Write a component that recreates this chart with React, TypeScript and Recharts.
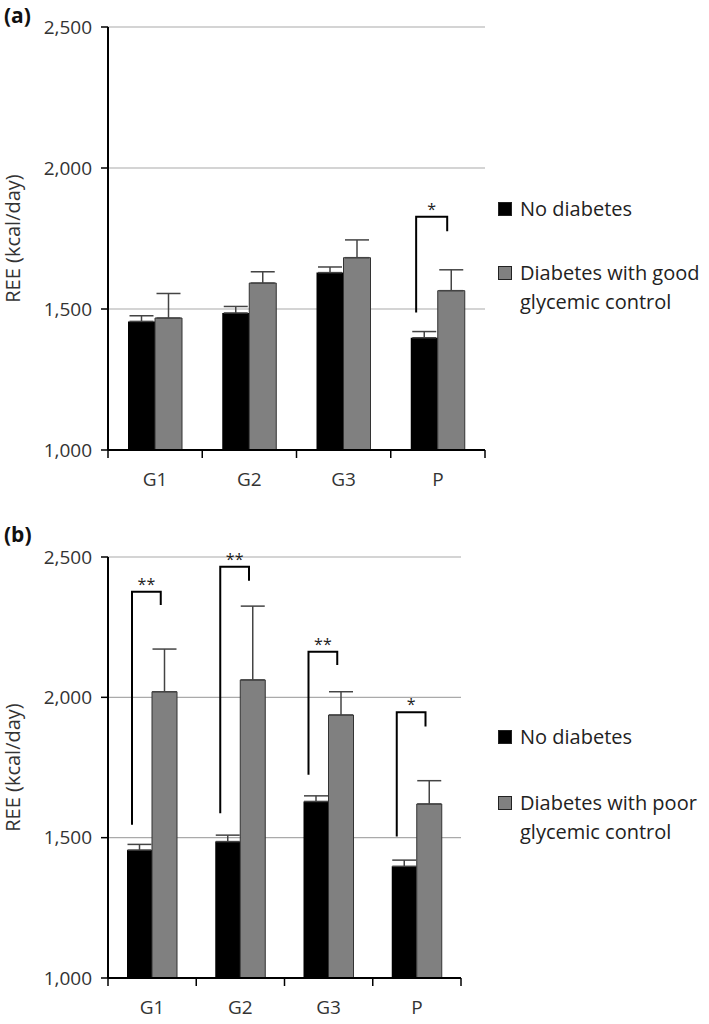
import { BarChart, Bar, XAxis, YAxis, CartesianGrid, ErrorBar, Legend } from 'recharts'

const groups = ['G1', 'G2', 'G3', 'P']
const noDiabetes = [1456, 1486, 1629, 1398]
const noDiabetesErr = [20, 23, 20, 22]
const goodControl = [1468, 1592, 1682, 1565]
const goodControlErr = [87, 40, 63, 74]
const poorControl = [2020, 2062, 1937, 1620]
const poorControlErr = [152, 263, 83, 83]
const yTicks = [1000, 1500, 2000, 2500]
const seriesOrder = ['none', 'dm']

// significance brackets: [left foot, top, right foot] in kcal/day
const bracketsA = [null, null, null, [1488, 1827, 1776]]
const marksA = ['', '', '', '*']
const bracketsB = [
  [1546, 2376, 2329],
  [1587, 2465, 2415],
  [1724, 2162, 2115],
  [1504, 1947, 1896],
]
const marksB = ['**', '**', '**', '*']

const Y_MIN = 1000
const FONT = "'Open Sans', sans-serif"
const X_TICK_MARGIN = 23

type Bracket = number[] | null

function makeBracket(brackets: Bracket[], marks: string[]) {
  return (props: any) => {
    const { x, y, width, height, index, value } = props
    const b = brackets[index]
    if (!b) return null
    const v = Array.isArray(value) ? value[1] : value
    const bottom = y + height
    const k = height / (v - Y_MIN)
    const py = (val: number) => bottom - (val - Y_MIN) * k
    const x1 = x - width + width * 0.2
    const x2 = x + width * 0.35
    const top = py(b[1])
    return (
      <g>
        <path
          d={`M${x1},${py(b[0])}V${top}H${x2}V${py(b[2])}`}
          fill="none"
          stroke="#000"
          strokeWidth={2}
        />
        <text x={(x1 + x2) / 2} y={top - 2} textAnchor="middle" fontSize={16} fontFamily={FONT} fill="#222">
          {marks[index]}
        </text>
      </g>
    )
  }
}

// category label + tick marks on the band boundaries (Excel style)
function GroupTick(props: any) {
  const { x, y, payload, index, visibleTicksCount, width } = props
  const half = payload.offset || width / visibleTicksCount / 2
  const axisY = y - X_TICK_MARGIN
  const tick = (tx: number) => (
    <line x1={tx} x2={tx} y1={axisY} y2={axisY + 8} stroke="#000" strokeWidth={1.5} />
  )
  return (
    <g>
      {tick(x - half)}
      {index === visibleTicksCount - 1 && tick(x + half)}
      <text x={x} y={y} dy="0.71em" textAnchor="middle" fontSize={19} fontFamily={FONT} fill="#333">
        {payload.value}
      </text>
    </g>
  )
}

function LegendBox({ payload, gap }: any) {
  const items = [...(payload || [])].sort(
    (a: any, b: any) => seriesOrder.indexOf(a.dataKey) - seriesOrder.indexOf(b.dataKey)
  )
  return (
    <div style={{ fontFamily: FONT, fontSize: 20, lineHeight: '29px', color: '#222' }}>
      {items.map((p: any, i: number) => (
        <div key={i} style={{ display: 'flex', alignItems: 'flex-start', marginTop: i === 0 ? 0 : gap }}>
          <span
            style={{
              width: 12,
              height: 12,
              marginTop: 8,
              marginRight: 8,
              background: p.color,
              border: '1px solid #222',
              flexShrink: 0,
            }}
          />
          <span style={{ whiteSpace: 'pre-line' }}>{p.value}</span>
        </div>
      ))}
    </div>
  )
}

interface PanelProps {
  series: number[]
  seriesErr: number[]
  seriesName: string
  brackets: Bracket[]
  marks: string[]
  height: number
  top: number
  right: number
  axisHeight: number
  barSize: number
  legendTop: number
  legendGap: number
}

function Panel({ series, seriesErr, seriesName, brackets, marks, height, top, right, axisHeight, barSize, legendTop, legendGap }: PanelProps) {
  const data = groups.map((g, i) => ({
    group: g,
    none: noDiabetes[i],
    noneErr: [0, noDiabetesErr[i]],
    dm: series[i],
    dmErr: [0, seriesErr[i]],
  }))
  return (
    <BarChart
      width={709}
      height={height}
      data={data}
      margin={{ top, right, bottom: 0, left: 0 }}
      barSize={barSize}
      barGap={0}
    >
      <CartesianGrid vertical={false} stroke="#aaa" strokeWidth={1.2} />
      <XAxis
        dataKey="group"
        tickLine={false}
        tickSize={0}
        tickMargin={X_TICK_MARGIN}
        tick={<GroupTick />}
        height={axisHeight}
        axisLine={{ stroke: '#000', strokeWidth: 2 }}
      />
      <YAxis
        domain={[Y_MIN, 2500]}
        ticks={yTicks}
        width={108}
        tickSize={7}
        tickMargin={9}
        tick={{ fontSize: 19, fontFamily: FONT, fill: '#333' }}
        tickFormatter={(v: number) => v.toLocaleString('en-US')}
        axisLine={{ stroke: '#000', strokeWidth: 2 }}
        tickLine={{ stroke: '#000', strokeWidth: 1.5 }}
        label={{
          value: 'REE (kcal/day)',
          angle: -90,
          position: 'insideLeft',
          offset: 13,
          style: { textAnchor: 'middle', fontSize: 20, fontFamily: FONT, fill: '#333' },
        }}
      />
      <Legend
        layout="horizontal"
        align="center"
        verticalAlign="middle"
        wrapperStyle={{ left: 498, top: legendTop, width: 211 }}
        content={(p: any) => <LegendBox payload={p.payload} gap={legendGap} />}
      />
      <Bar dataKey="none" name="No diabetes" fill="#000" isAnimationActive={false}>
        <ErrorBar dataKey="noneErr" direction="y" width={12} stroke="#444" strokeWidth={1.5} />
      </Bar>
      <Bar
        dataKey="dm"
        name={seriesName}
        fill="#808080"
        stroke="#333"
        strokeWidth={1}
        isAnimationActive={false}
        label={makeBracket(brackets, marks)}
      >
        <ErrorBar dataKey="dmErr" direction="y" width={12} stroke="#444" strokeWidth={1.5} />
      </Bar>
    </BarChart>
  )
}

const panelLabel = { position: 'absolute' as const, left: 4, fontFamily: FONT, fontWeight: 700, fontSize: 21, color: '#111' }

export default function App() {
  return (
    <div style={{ position: 'absolute', left: 0, top: 0, width: 709, height: 1024, background: '#fff' }}>
      <div style={{ position: 'absolute', left: 0, top: 0 }}>
        <Panel
          series={goodControl}
          seriesErr={goodControlErr}
          seriesName={'Diabetes with good\nglycemic control'}
          brackets={bracketsA}
          marks={marksA}
          height={500}
          top={27}
          right={224}
          axisHeight={50}
          barSize={27}
          legendTop={194}
          legendGap={35}
        />
      </div>
      <div style={{ position: 'absolute', left: 0, top: 500 }}>
        <Panel
          series={poorControl}
          seriesErr={poorControlErr}
          seriesName={'Diabetes with poor\nglycemic control'}
          brackets={bracketsB}
          marks={marksB}
          height={524}
          top={57}
          right={248}
          axisHeight={46}
          barSize={25}
          legendTop={222}
          legendGap={37}
        />
      </div>
      <div style={{ ...panelLabel, top: 1 }}>(a)</div>
      <div style={{ ...panelLabel, top: 520 }}>(b)</div>
    </div>
  )
}
